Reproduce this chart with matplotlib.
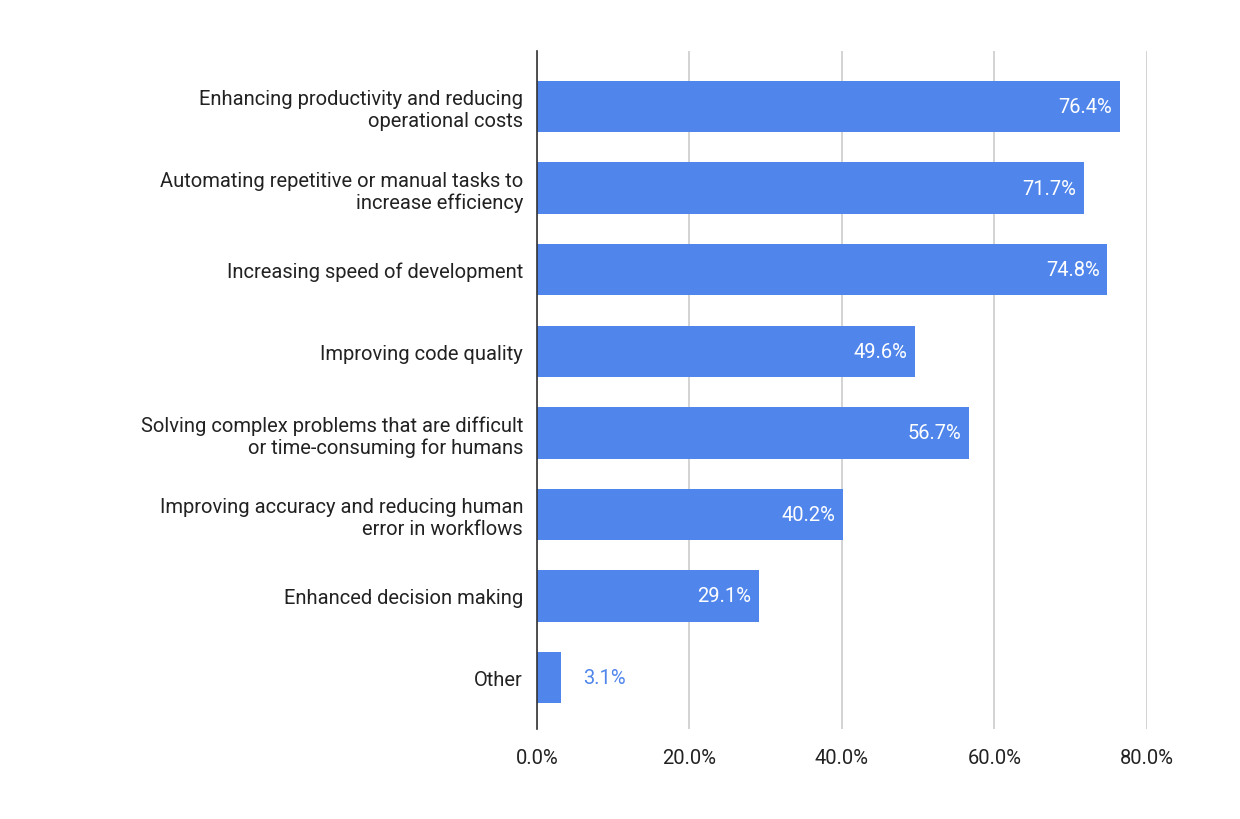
import matplotlib
matplotlib.use("Agg")
from matplotlib import pyplot as plt

plt.rcParams["font.family"] = ["Roboto", "DejaVu Sans"]

categories = [
    "Enhancing productivity and reducing\noperational costs",
    "Automating repetitive or manual tasks to\nincrease efficiency",
    "Increasing speed of development",
    "Improving code quality",
    "Solving complex problems that are difficult\nor time-consuming for humans",
    "Improving accuracy and reducing human\nerror in workflows",
    "Enhanced decision making",
    "Other",
]
values = [76.4, 71.7, 74.8, 49.6, 56.7, 40.2, 29.1, 3.1]
ticks = [0, 20, 40, 60, 80]

bar_color = "#5086EC"

fig = plt.figure(figsize=(12.4, 8.2), dpi=100)
ax = fig.add_axes([0.433, 0.1098, 0.492, 0.8268])

pos = list(range(len(values)))
ax.barh(pos, values, height=0.63, color=bar_color, zorder=3)

for y, v in zip(pos, values):
    label = f"{v:.1f}%"
    if v > 10:
        ax.text(v - 1.0, y, label, ha="right", va="center",
                color="white", fontsize=14.5, zorder=4)
    else:
        ax.text(v + 3.0, y, label, ha="left", va="center",
                color=bar_color, fontsize=14.5, zorder=4)

ax.set_xlim(0, 80)
ax.set_ylim(7.63, -0.68)
ax.set_yticks(pos)
ax.set_yticklabels(categories, fontsize=14.5, color="#222222")
ax.set_xticks(ticks)
ax.set_xticklabels([f"{t:.1f}%" for t in ticks], fontsize=14.5, color="#222222")
ax.tick_params(axis="both", length=0, pad=10)
ax.tick_params(axis="x", pad=14)

ax.grid(axis="x", color="#cccccc", linewidth=1.2, zorder=0)
for side in ["top", "right", "bottom"]:
    ax.spines[side].set_visible(False)
ax.spines["left"].set_color("#333333")
ax.spines["left"].set_linewidth(1.2)
ax.spines["left"].set_zorder(5)

fig.savefig("out.png", dpi=100, facecolor="white")
